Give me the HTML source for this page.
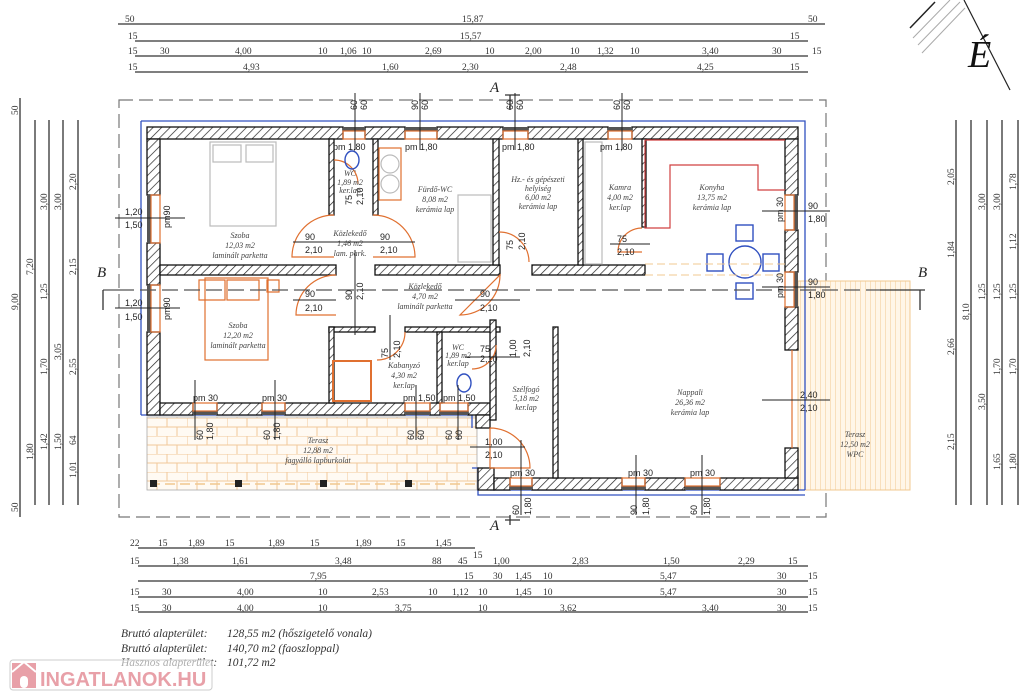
<!DOCTYPE html>
<html><head><meta charset="utf-8"><style>
html,body{margin:0;padding:0;background:#fff;}
svg{display:block;}
.d{font-family:"Liberation Serif",serif;font-size:9.5px;fill:#333;}
.s{font-family:"Liberation Sans",sans-serif;font-size:9px;fill:#222;}
.r{font-family:"Liberation Serif",serif;font-style:italic;font-size:8px;fill:#444;text-anchor:middle;}
</style></head><body>
<svg width="1024" height="699" viewBox="0 0 1024 699" xmlns="http://www.w3.org/2000/svg">
<defs>
<pattern id="h" width="6" height="6" patternUnits="userSpaceOnUse" patternTransform="rotate(45)">
<rect width="6" height="6" fill="#fff"/><line x1="0" y1="0" x2="0" y2="6" stroke="#222" stroke-width="1.4"/></pattern>
<pattern id="t" width="40" height="18" patternUnits="userSpaceOnUse" x="147" y="418">
<rect width="40" height="18" fill="#fffaf3"/>
<path d="M0 0H40M0 9H40M0 0V9M20 0V9M10 9V18M30 9V18" stroke="#f2c89a" stroke-width="1" fill="none"/></pattern>
<pattern id="w" width="5" height="10" patternUnits="userSpaceOnUse">
<rect width="5" height="10" fill="#fff6e8"/><line x1="0" y1="0" x2="0" y2="10" stroke="#f0c890" stroke-width="1"/></pattern>
</defs>
<rect width="1024" height="699" fill="#fff"/>

<!-- dashed outline -->
<rect x="119" y="100" width="707" height="417" fill="none" stroke="#777" stroke-width="1.2" stroke-dasharray="14 6"/>

<!-- terraces -->
<rect x="147" y="417" width="330" height="73" fill="url(#t)" stroke="#aaa" stroke-width="0.8"/>
<line x1="150" y1="484" x2="475" y2="484" stroke="#f0c890" stroke-dasharray="10 5" stroke-width="1.5"/>
<rect x="150" y="480" width="7" height="7" fill="#222"/><rect x="235" y="480" width="7" height="7" fill="#222"/><rect x="320" y="480" width="7" height="7" fill="#222"/><rect x="405" y="480" width="7" height="7" fill="#222"/>
<rect x="798" y="281" width="112" height="209" fill="url(#w)" stroke="#f0c890" stroke-width="1"/>

<!-- blue outer insulation -->
<path d="M141 121H805V490M141 121V415M141 415H472V428M490 490H805M472 468H478V495H805" fill="none" stroke="#3050c0" stroke-width="1.3"/>

<!-- outer walls -->
<g fill="url(#h)" stroke="#111" stroke-width="1.3">
<rect x="147" y="127" width="196" height="12"/><rect x="365" y="127" width="40" height="12"/><rect x="437" y="127" width="66" height="12"/><rect x="528" y="127" width="80" height="12"/><rect x="632" y="127" width="166" height="12"/>
<rect x="147" y="139" width="13" height="56"/><rect x="147" y="243" width="13" height="42"/><rect x="147" y="332" width="13" height="83"/>
<rect x="160" y="403" width="33" height="12"/><rect x="217" y="403" width="45" height="12"/><rect x="285" y="403" width="120" height="12"/><rect x="430" y="403" width="10" height="12"/><rect x="468" y="403" width="22" height="12"/>
<rect x="476" y="415" width="14" height="13"/>
<rect x="478" y="468" width="16" height="22"/><rect x="494" y="478" width="16" height="12"/><rect x="532" y="478" width="90" height="12"/><rect x="645" y="478" width="40" height="12"/><rect x="720" y="478" width="78" height="12"/>
<rect x="785" y="139" width="13" height="56"/><rect x="785" y="230" width="13" height="42"/><rect x="785" y="307" width="13" height="43"/><rect x="785" y="448" width="13" height="30"/>
<!-- interior -->
<rect x="160" y="265" width="176" height="10"/><rect x="375" y="265" width="125" height="10"/><rect x="532" y="265" width="113" height="10"/>
<rect x="329" y="139" width="5" height="76"/><rect x="373" y="139" width="5" height="76"/><rect x="493" y="139" width="6" height="126"/><rect x="578" y="139" width="5" height="126"/><rect x="642" y="139" width="4" height="88"/>
<rect x="329" y="327" width="46" height="5"/><rect x="405" y="327" width="95" height="5"/>
<rect x="329" y="327" width="5" height="76"/><rect x="437" y="332" width="5" height="71"/><rect x="490" y="320" width="6" height="100"/><rect x="553" y="327" width="5" height="151"/>
</g>
<!-- windows -->
<g fill="#555">
<rect x="343" y="127" width="22" height="4"/><rect x="405" y="127" width="32" height="4"/><rect x="503" y="127" width="25" height="4"/><rect x="608" y="127" width="24" height="4"/>
<rect x="147" y="195" width="4" height="48"/><rect x="147" y="285" width="4" height="47"/>
<rect x="193" y="411" width="24" height="4"/><rect x="262" y="411" width="23" height="4"/><rect x="405" y="411" width="25" height="4"/><rect x="440" y="411" width="28" height="4"/>
<rect x="510" y="486" width="22" height="4"/><rect x="622" y="486" width="23" height="4"/><rect x="685" y="486" width="35" height="4"/>
<rect x="794" y="195" width="4" height="35"/><rect x="794" y="272" width="4" height="35"/>
</g>
<g fill="none" stroke="#e07030" stroke-width="1.2">
<rect x="343" y="131" width="22" height="8"/><rect x="405" y="131" width="32" height="8"/><rect x="503" y="131" width="25" height="8"/><rect x="608" y="131" width="24" height="8"/>
<rect x="151" y="195" width="9" height="48"/><rect x="151" y="285" width="9" height="47"/>
<rect x="193" y="403" width="24" height="8"/><rect x="262" y="403" width="23" height="8"/><rect x="405" y="403" width="25" height="8"/><rect x="440" y="403" width="28" height="8"/>
<rect x="510" y="478" width="22" height="8"/><rect x="622" y="478" width="23" height="8"/><rect x="685" y="478" width="35" height="8"/>
<rect x="785" y="195" width="9" height="35"/><rect x="785" y="272" width="9" height="35"/>
<line x1="792" y1="350" x2="792" y2="448"/>
<!-- doors -->
<path d="M334 215 A42 42 0 0 0 292 257 L334 257"/><path d="M373 215 A42 42 0 0 1 415 257 L373 257"/>
<path d="M336 275 A40 40 0 0 0 296 315 L336 315"/><path d="M500 275 A40 40 0 0 1 460 315 Z" />
<path d="M499 232 A30 30 0 0 1 529 262"/><path d="M334 160 A24 24 0 0 1 358 184"/>
<path d="M642 228 A24 24 0 0 0 618 252 L642 252"/>
<path d="M405 332 A28 28 0 0 1 377 360"/><path d="M496 345 A24 24 0 0 1 472 369"/>
<path d="M490 428 A40 40 0 0 1 530 468 L490 468 Z"/>
<!-- furniture -->
<path d="M312 280H338V300H312ZM340 280H372V300H340ZM380 280H392V292H380Z" transform="translate(-113 0)"/>
<rect x="205" y="278" width="63" height="82"/>
<rect x="333" y="361" width="38" height="40" stroke-width="2"/>
<rect x="379" y="148" width="22" height="52"/><rect x="458" y="195" width="33" height="67" stroke="#bbb"/>
<path d="M645 140V228H670V165H758V190H785M645 140H785" stroke="#d04040"/>
</g>
<g fill="none" stroke="#bbb" stroke-width="1.2">
<rect x="210" y="142" width="66" height="84"/><rect x="213" y="145" width="28" height="17"/><rect x="246" y="145" width="27" height="17"/>
<circle cx="390" cy="164" r="9"/><circle cx="390" cy="184" r="9"/>
<rect x="585" y="142" width="17" height="122"/>
</g>
<g fill="none" stroke="#3050c0" stroke-width="1.4">
<circle cx="745" cy="262" r="16"/><rect x="736" y="225" width="17" height="16"/><rect x="736" y="283" width="17" height="16"/><rect x="707" y="254" width="16" height="17"/><rect x="763" y="254" width="16" height="17"/>
<ellipse cx="352" cy="160" rx="7" ry="9"/><ellipse cx="464" cy="383" rx="7" ry="9"/>
</g>
<line x1="645" y1="264" x2="785" y2="264" stroke="#f0c890" stroke-dasharray="8 4"/><line x1="645" y1="275" x2="785" y2="275" stroke="#f0c890" stroke-dasharray="8 4"/>

<!-- section lines -->
<g stroke="#333" stroke-width="1.3" fill="none">
<path d="M103 290H118M118 290H880" stroke-dasharray="16 6" stroke="#555"/>
<path d="M103 290V310M920 290V310M880 290H925" />
<path d="M510 95V110M510 515V525M505 95H520M505 520H520"/>
</g>
<g stroke="#222" stroke-width="1">
<line x1="355" y1="93" x2="355" y2="150"/><line x1="420" y1="93" x2="420" y2="150"/><line x1="515" y1="93" x2="515" y2="150"/><line x1="622" y1="93" x2="622" y2="150"/>
<line x1="195" y1="380" x2="195" y2="440"/><line x1="275" y1="380" x2="275" y2="440"/><line x1="416" y1="385" x2="416" y2="440"/><line x1="458" y1="385" x2="458" y2="440"/>
<line x1="521" y1="440" x2="521" y2="515"/><line x1="636" y1="455" x2="636" y2="515"/><line x1="702" y1="455" x2="702" y2="515"/>
<line x1="115" y1="218" x2="185" y2="218"/><line x1="115" y1="308" x2="180" y2="308"/>
<line x1="762" y1="211" x2="830" y2="211"/><line x1="762" y1="287" x2="830" y2="287"/><line x1="762" y1="400" x2="830" y2="400"/>
<line x1="293" y1="242" x2="415" y2="242"/><line x1="293" y1="300" x2="336" y2="300"/><line x1="455" y1="300" x2="520" y2="300"/>
<line x1="465" y1="357" x2="520" y2="357"/><line x1="470" y1="447" x2="525" y2="447"/><line x1="610" y1="244" x2="650" y2="244"/>
<line x1="355" y1="250" x2="355" y2="335"/><line x1="390" y1="315" x2="390" y2="360"/>
</g>

<!-- dimension lines -->
<g stroke="#333" stroke-width="1.3">
<line x1="118" y1="24" x2="825" y2="24"/><line x1="135" y1="41" x2="808" y2="41"/><line x1="135" y1="56" x2="808" y2="56"/><line x1="135" y1="72" x2="808" y2="72"/>
<line x1="138" y1="548" x2="475" y2="548"/><line x1="138" y1="566" x2="808" y2="566"/><line x1="138" y1="581" x2="808" y2="581"/><line x1="138" y1="597" x2="808" y2="597"/><line x1="138" y1="612" x2="808" y2="612"/>
<line x1="20" y1="98" x2="20" y2="517"/><line x1="35" y1="120" x2="35" y2="505"/><line x1="49" y1="120" x2="49" y2="505"/><line x1="63" y1="120" x2="63" y2="505"/><line x1="78" y1="120" x2="78" y2="505"/>
<line x1="956" y1="120" x2="956" y2="505"/><line x1="971" y1="120" x2="971" y2="505"/><line x1="987" y1="120" x2="987" y2="505"/><line x1="1002" y1="120" x2="1002" y2="505"/><line x1="1018" y1="120" x2="1018" y2="505"/>
</g>
<g class="d">
<text x="125" y="22">50</text><text x="462" y="22">15,87</text><text x="808" y="22">50</text>
<text x="128" y="39">15</text><text x="460" y="39">15,57</text><text x="790" y="39">15</text>
<text x="128" y="54">15</text><text x="160" y="54">30</text><text x="235" y="54">4,00</text><text x="318" y="54">10</text><text x="340" y="54">1,06</text><text x="362" y="54">10</text><text x="425" y="54">2,69</text><text x="485" y="54">10</text><text x="525" y="54">2,00</text><text x="570" y="54">10</text><text x="597" y="54">1,32</text><text x="630" y="54">10</text><text x="702" y="54">3,40</text><text x="772" y="54">30</text><text x="812" y="54">15</text>
<text x="128" y="70">15</text><text x="243" y="70">4,93</text><text x="382" y="70">1,60</text><text x="462" y="70">2,30</text><text x="560" y="70">2,48</text><text x="697" y="70">4,25</text><text x="790" y="70">15</text>
<text x="130" y="546">22</text><text x="158" y="546">15</text><text x="188" y="546">1,89</text><text x="225" y="546">15</text><text x="268" y="546">1,89</text><text x="310" y="546">15</text><text x="355" y="546">1,89</text><text x="396" y="546">15</text><text x="435" y="546">1,45</text><text x="473" y="558">15</text>
<text x="130" y="564">15</text><text x="172" y="564">1,38</text><text x="232" y="564">1,61</text><text x="335" y="564">3,48</text><text x="432" y="564">88</text><text x="458" y="564">45</text><text x="493" y="564">1,00</text><text x="572" y="564">2,83</text><text x="663" y="564">1,50</text><text x="738" y="564">2,29</text><text x="788" y="564">15</text>
<text x="310" y="579">7,95</text><text x="464" y="579">15</text><text x="493" y="579">30</text><text x="515" y="579">1,45</text><text x="543" y="579">10</text><text x="660" y="579">5,47</text><text x="777" y="579">30</text><text x="808" y="579">15</text>
<text x="130" y="595">15</text><text x="162" y="595">30</text><text x="237" y="595">4,00</text><text x="318" y="595">10</text><text x="372" y="595">2,53</text><text x="428" y="595">10</text><text x="452" y="595">1,12</text><text x="478" y="595">10</text><text x="515" y="595">1,45</text><text x="543" y="595">10</text><text x="660" y="595">5,47</text><text x="777" y="595">30</text><text x="808" y="595">15</text>
<text x="130" y="611">15</text><text x="162" y="611">30</text><text x="237" y="611">4,00</text><text x="318" y="611">10</text><text x="395" y="611">3,75</text><text x="478" y="611">10</text><text x="560" y="611">3,62</text><text x="702" y="611">3,40</text><text x="777" y="611">30</text><text x="808" y="611">15</text>
</g>
<g class="d">
<text transform="translate(18,310) rotate(-90)">9,00</text><text transform="translate(18,115) rotate(-90)">50</text><text transform="translate(18,512) rotate(-90)">50</text>
<text transform="translate(33,275) rotate(-90)">7,20</text><text transform="translate(33,460) rotate(-90)">1,80</text>
<text transform="translate(47,210) rotate(-90)">3,00</text><text transform="translate(47,300) rotate(-90)">1,25</text><text transform="translate(47,375) rotate(-90)">1,70</text><text transform="translate(47,450) rotate(-90)">1,42</text>
<text transform="translate(61,210) rotate(-90)">3,00</text><text transform="translate(61,360) rotate(-90)">3,05</text><text transform="translate(61,450) rotate(-90)">1,50</text>
<text transform="translate(76,190) rotate(-90)">2,20</text><text transform="translate(76,275) rotate(-90)">2,15</text><text transform="translate(76,375) rotate(-90)">2,55</text><text transform="translate(76,445) rotate(-90)">64</text><text transform="translate(76,478) rotate(-90)">1,01</text>
<text transform="translate(954,185) rotate(-90)">2,05</text><text transform="translate(954,258) rotate(-90)">1,84</text><text transform="translate(954,355) rotate(-90)">2,66</text><text transform="translate(954,450) rotate(-90)">2,15</text>
<text transform="translate(969,320) rotate(-90)">8,10</text>
<text transform="translate(985,210) rotate(-90)">3,00</text><text transform="translate(985,300) rotate(-90)">1,25</text><text transform="translate(985,410) rotate(-90)">3,50</text>
<text transform="translate(1000,210) rotate(-90)">3,00</text><text transform="translate(1000,300) rotate(-90)">1,25</text><text transform="translate(1000,375) rotate(-90)">1,70</text><text transform="translate(1000,470) rotate(-90)">1,65</text>
<text transform="translate(1016,190) rotate(-90)">1,78</text><text transform="translate(1016,250) rotate(-90)">1,12</text><text transform="translate(1016,300) rotate(-90)">1,25</text><text transform="translate(1016,375) rotate(-90)">1,70</text><text transform="translate(1016,470) rotate(-90)">1,80</text>
</g>

<!-- small plan labels -->
<g class="s">
<text x="125" y="215">1,20</text><text x="125" y="228">1,50</text><text x="125" y="306">1,20</text><text x="125" y="320">1,50</text>
<text transform="translate(170,228) rotate(-90)">pm90</text><text transform="translate(170,320) rotate(-90)">pm90</text>
<text x="305" y="240">90</text><text x="305" y="253">2,10</text><text x="380" y="240">90</text><text x="380" y="253">2,10</text>
<text x="305" y="297">90</text><text x="305" y="311">2,10</text><text x="480" y="297">90</text><text x="480" y="311">2,10</text>
<text x="480" y="352">75</text><text x="480" y="362">2,10</text><text x="485" y="445">1,00</text><text x="485" y="458">2,10</text>
<text x="617" y="242">75</text><text x="617" y="255">2,10</text>
<text x="808" y="209">90</text><text x="808" y="222">1,80</text><text x="808" y="285">90</text><text x="808" y="298">1,80</text><text x="800" y="398">2,40</text><text x="800" y="411">2,10</text>
<text x="333" y="150">pm 1,80</text><text x="405" y="150">pm 1,80</text><text x="502" y="150">pm 1,80</text><text x="600" y="150">pm 1,80</text>
<text x="193" y="401">pm 30</text><text x="262" y="401">pm 30</text><text x="403" y="401">pm 1,50</text><text x="443" y="401">pm 1,50</text>
<text x="510" y="476">pm 30</text><text x="628" y="476">pm 30</text><text x="690" y="476">pm 30</text>
<text transform="translate(783,222) rotate(-90)">pm 30</text><text transform="translate(783,298) rotate(-90)">pm 30</text>
<text transform="translate(357,110) rotate(-90)">60</text><text transform="translate(367,110) rotate(-90)">60</text><text transform="translate(418,110) rotate(-90)">90</text><text transform="translate(428,110) rotate(-90)">60</text>
<text transform="translate(513,110) rotate(-90)">60</text><text transform="translate(523,110) rotate(-90)">60</text><text transform="translate(620,110) rotate(-90)">60</text><text transform="translate(630,110) rotate(-90)">60</text>
<text transform="translate(203,440) rotate(-90)">60</text><text transform="translate(213,440) rotate(-90)">1,80</text><text transform="translate(270,440) rotate(-90)">60</text><text transform="translate(280,440) rotate(-90)">1,80</text>
<text transform="translate(414,440) rotate(-90)">60</text><text transform="translate(424,440) rotate(-90)">60</text><text transform="translate(452,440) rotate(-90)">60</text><text transform="translate(462,440) rotate(-90)">60</text>
<text transform="translate(519,515) rotate(-90)">60</text><text transform="translate(531,515) rotate(-90)">1,80</text><text transform="translate(637,515) rotate(-90)">90</text><text transform="translate(649,515) rotate(-90)">1,80</text><text transform="translate(697,515) rotate(-90)">60</text><text transform="translate(710,515) rotate(-90)">1,80</text>
<text transform="translate(352,205) rotate(-90)">75</text><text transform="translate(363,205) rotate(-90)">2,10</text><text transform="translate(352,300) rotate(-90)">90</text><text transform="translate(363,300) rotate(-90)">2,10</text>
<text transform="translate(388,358) rotate(-90)">75</text><text transform="translate(400,358) rotate(-90)">2,10</text><text transform="translate(516,357) rotate(-90)">1,00</text><text transform="translate(530,357) rotate(-90)">2,10</text>
<text transform="translate(513,250) rotate(-90)">75</text><text transform="translate(525,250) rotate(-90)">2,10</text>
</g>
<g class="r">
<text x="240" y="238">Szoba</text><text x="240" y="248">12,03 m2</text><text x="240" y="258">laminált parketta</text>
<text x="238" y="328">Szoba</text><text x="238" y="338">12,20 m2</text><text x="238" y="348">laminált parketta</text>
<text x="350" y="176">WC</text><text x="350" y="185">1,89 m2</text><text x="350" y="193">ker.lap</text>
<text x="435" y="192">Fürdő-WC</text><text x="435" y="202">8,08 m2</text><text x="435" y="212">kerámia lap</text>
<text x="350" y="236">Közlekedő</text><text x="350" y="246">1,46 m2</text><text x="350" y="256">lam. park.</text>
<text x="425" y="289">Közlekedő</text><text x="425" y="299">4,70 m2</text><text x="425" y="309">laminált parketta</text>
<text x="538" y="182">Hz.- és gépészeti</text><text x="538" y="191">helyiség</text><text x="538" y="200">6,00 m2</text><text x="538" y="209">kerámia lap</text>
<text x="620" y="190">Kamra</text><text x="620" y="200">4,00 m2</text><text x="620" y="210">ker.lap</text>
<text x="712" y="190">Konyha</text><text x="712" y="200">13,75 m2</text><text x="712" y="210">kerámia lap</text>
<text x="404" y="368">Kabanyzó</text><text x="404" y="378">4,30 m2</text><text x="404" y="388">ker.lap</text>
<text x="458" y="350">WC</text><text x="458" y="358">1,89 m2</text><text x="458" y="366">ker.lap</text>
<text x="526" y="392">Szélfogó</text><text x="526" y="401">5,18 m2</text><text x="526" y="410">ker.lap</text>
<text x="690" y="395">Nappali</text><text x="690" y="405">26,36 m2</text><text x="690" y="415">kerámia lap</text>
<text x="318" y="443">Terasz</text><text x="318" y="453">12,88 m2</text><text x="318" y="463">fagyálló lapburkolat</text>
<text x="855" y="437">Terasz</text><text x="855" y="447">12,50 m2</text><text x="855" y="457">WPC</text>
</g>
<g font-family="Liberation Serif,serif" font-style="italic" font-size="15" fill="#222">
<text x="97" y="277">B</text><text x="918" y="277">B</text><text x="490" y="92">A</text><text x="490" y="530">A</text>
</g>
<!-- north -->
<g stroke="#222"><line x1="910" y1="28" x2="935" y2="2" stroke-width="1.5"/><line x1="964" y1="0" x2="1010" y2="90" stroke-width="1.2"/></g>
<g stroke="#aaa"><line x1="913" y1="38" x2="950" y2="0"/><line x1="918" y1="45" x2="960" y2="2"/><line x1="922" y1="53" x2="965" y2="8"/></g>
<text x="968" y="67" font-family="Liberation Serif,serif" font-style="italic" font-size="38" fill="#111">É</text>
<!-- area text -->
<g font-family="Liberation Serif,serif" font-style="italic" font-size="11.5" fill="#333">
<text x="121" y="637">Bruttó alapterület:</text><text x="227" y="637">128,55 m2 (hőszigetelő vonala)</text>
<text x="121" y="652">Bruttó alapterület:</text><text x="227" y="652">140,70 m2 (faoszloppal)</text>
<text x="121" y="666">Hasznos alapterület:</text><text x="227" y="666">101,72 m2</text>
</g>
<rect x="10" y="660" width="202" height="30" rx="3" fill="#fff" fill-opacity="0.6" stroke="#ccc"/>
<rect x="12" y="663" width="24" height="25" fill="#e8a0a8"/><path d="M12 672L24 662L36 672" fill="none" stroke="#fff" stroke-width="2"/><rect x="20" y="676" width="8" height="12" rx="4" fill="#fff"/>
<text x="40" y="686" font-family="Liberation Sans,sans-serif" font-weight="bold" font-size="20" fill="#e8a0a8">INGATLANOK.HU</text>
</svg>
</body></html>
